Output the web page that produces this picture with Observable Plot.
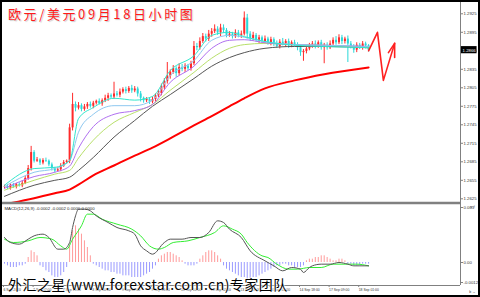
<!DOCTYPE html>
<html><head><meta charset="utf-8">
<script src="https://cdn.jsdelivr.net/npm/d3@7"></script>
<script src="https://cdn.jsdelivr.net/npm/@observablehq/plot@0.6"></script>
<style>
html,body{margin:0;padding:0;background:#fff;}
#wrap{position:relative;width:480px;height:297px;box-sizing:border-box;border:2px solid #000;overflow:hidden;background:#fff;}
#main{position:absolute;left:0;top:0;}
#macd{position:absolute;left:0;top:199px;}
#title{position:absolute;left:6px;top:2px;font-family:"Noto Sans CJK SC",sans-serif;font-size:13px;letter-spacing:2.6px;color:#ff1a1a;text-shadow:1px 1px 1px #c8c8c8;white-space:nowrap;}
#mark{position:absolute;left:6px;top:272px;font-family:"Noto Sans CJK SC",sans-serif;font-size:14px;letter-spacing:0.45px;color:#000;white-space:nowrap;text-shadow:0 0 2px #fff,0 0 2px #fff,0 0 2px #fff;}
</style></head>
<body><div id="wrap"><div id="main"></div><div id="macd"></div><div id="title"></div><div id="mark"></div></div>
<script>
// ---- text ----
const titleText = "欧元/美元09月18日小时图";
const watermarkText = "外汇之星(www.forexstar.com.cn)专家团队";
const macdName = "MACD(12,26,9)";
const macdLabelValues = [-0.0002, -0.0002, 0.0000, 0.0000];

// ---- candles: prices in pips above 1.2600 ----
const firstOpen = 44;
const closes = [45,42,47,44,48,46,50,58,74,100,
  86,88,83,87,86,80,74,70,72,78,
  84,86,140,178,172,176,170,174,178,175,
  180,183,179,184,188,192,190,195,193,198,
  202,199,204,200,203,195,188,184,186,182,
  186,192,196,205,215,224,230,236,228,238,
  235,240,236,244,272,270,280,288,284,292,
  296,300,294,302,298,290,292,288,294,290,
  292,318,292,285,290,282,286,280,284,278,
  283,276,272,279,276,280,273,278,275,270,
  262,264,268,274,276,272,278,270,274,270,
  276,282,278,286,280,284,276,272,266,274,
  270,276,273,266];
const wickUp = [2,3,2,3,2,3,4,3,5,10, 3,4,2,3,4,2,3,2,3,4, 3,2,6,18,4,5,3,4,3,4,
  3,2,4,3,5,4,3,19,4,5, 3,4,3,5,4,3,4,2,3,3, 4,3,5,6,5,22,4,5,3,6,
  5,4,3,4,8,5,6,5,4,6, 5,7,4,6,5,3,4,3,5,4, 5,10,6,4,5,3,4,3,5,3,
  4,3,5,4,6,3,4,3,4,3, 5,3,4,3,4,5,3,4,3,4, 5,4,6,5,4,3,5,4,3,4, 3,4,3,2];
const wickDown = [3,2,3,2,3,2,3,2,3,4, 3,2,4,3,2,3,4,3,2,3, 2,3,4,5,6,3,4,3,4,3,
  4,3,2,4,3,5,3,4,3,4, 3,4,3,4,3,5,6,4,3,4, 3,4,3,4,3,4,5,3,6,4,
  4,5,3,4,3,5,4,3,5,4, 5,3,4,6,5,4,3,4,3,4, 5,3,8,5,4,3,5,4,3,4,
  5,4,3,4,3,5,4,3,4,5, 6,14,4,3,5,4,3,4,26,4, 3,5,4,3,5,4,30,4,5,4, 3,4,5,3];

// ---- moving averages (pips above 1.2600), sampled at bar indices ----
const maBars   = [0,10,17,22,25,30,37,44,50,56,64,70,76,81,88,98,108,123];
const maCyan   = [47,74,76,87,155,173,188,185,191,233,257,290,295,288,280,274,272,270];
const maSky    = [45,68,74,87,133,162,176,176,185,225,249,282,290,287,280,275,274,272];
const maPurple = [42,61,68,78,107,142,162,168,178,214,240,269,282,283,278,275,274,272];
const maLime   = [39,55,65,71,91,120,149,165,178,201,230,253,269,275,277,275,274,270];
const maGray   = [29,47,55,60,71,92,125,152,175,194,220,240,254,262,269,272,272,270];
const maRed    = [16,26,34,40,48,63,79,95,108,123,144,159,175,188,204,217,227,238];

// ---- hand-drawn forecast arrow (bar index, pips) ----
const arrowBars = [123,126,128,131.8];
const arrowPips = [265,295,217,277];
const headBars = [129.7,131.8,131.8];
const headPips = [262,277,254];

// ---- MACD (units of 0.0001) ----
const macdBars = [0,2,5,8,10,13,15,18,20,22,23,24,25,27,29,31,35,38,42,44,46,48,50,54,56,60,63,66,69,72,74,76,80,83,88,91,94,97,100,101,103,104,107,110,113,116,118,120,123];
const macdVals = [15,12,11,14,16,17,15,8,8,12,21,28,32,32,31,28,24,21,19,17,10,7,5,12,14,14,15,15,18,25,24,20,15,7,1,-2,-5,-3,-4,-6,-3,-2,-1,-1,0,-1,-2,-2,-2];
const sigBars = [0,3,8,12,16,19,21,23,26,28,30,33,38,43,46,49,52,54,57,62,66,71,74,77,80,82,87,89,92,96,99,103,107,111,116,119,123];
const sigVals = [14,12,13,15,14,10,8,14,22,29,29,26,23,20,16,10,8,9,12,13,15,18,22,20,17,12,4,3,-1,-4,-4,-3,-3,-1,-1,-1,-2];
const histVals = [-1,-2,-3,-3,-3,-2,-2,-1,3,7,
  6,4,-2,-3,-5,-6,-8,-9,-9,-8,
  -6,-3,10,19,22,20,17,13,9,4,
  -1,-2,-3,-4,-5,-5,-6,-6,-7,-7,
  -8,-8,-8,-9,-9,-9,-9,-8,-7,-6,
  -4,-2,2,4,5,6,6,5,4,3,
  1,-1,-2,-2,-2,-1,2,4,6,7,
  7,6,4,2,-2,-4,-5,-6,-7,-8,
  -9,-9,-10,-10,-9,-9,-8,-7,-6,-5,
  -4,-3,-2,-2,-1,-1,-2,-2,-3,-3,
  -3,-2,1,2,2,3,3,4,4,3,
  2,1,1,2,2,1,-1,-1,-2,-2,
  -2,-1,-1,-1];

// ---- axes ----
const priceTicks = [1.2925,1.2895,1.2865,1.2835,1.2805,1.2775,1.2745,1.2715,1.2685,1.2655,1.2625];
const macdTicks = [0.0033, 0, -0.0012];
const macdTickLabels = ["0.003", "0.00", "-0.0012"];
const timeTicks = [0,10,20,30,40,50,60,70,80,90,100,110,120];
const timeLabels = ["6 Sep 2010","7 Sep 02:00","7 Sep 18:00","8 Sep 10:00","9 Sep 02:00","9 Sep 18:00","10 Sep 10:00","13 Sep 02:00","13 Sep 18:00","14 Sep 02:00","14 Sep 18:00","17 Sep 09:00","18 Sep 01:00"];

// ---- build ----
const P = p => 1.26 + p / 10000;
const M = v => v / 10000;
const UP = "#ff2a2a", DN = "#2ad8d8";
const opens = [firstOpen, ...closes.slice(0, -1)];
const candles = closes.map((c, i) => ({
  i, o: P(opens[i]), c: P(c),
  h: P(Math.max(opens[i], c) + wickUp[i]),
  l: P(Math.min(opens[i], c) - wickDown[i]),
  col: c >= opens[i] ? UP : DN
}));
const maSeries = (vals) => maBars.map((b, k) => ({b, v: P(vals[k])}));
const last = candles[candles.length - 1].c;

const xDom = [-0.676, 154.05];
const W = 476;
const style = {fontFamily: "Arial, 'Liberation Sans', sans-serif", fontSize: "4.3px", background: "transparent", color: "#222"};

const main = Plot.plot({
  width: W, height: 200,
  marginLeft: 0, marginRight: 18, marginTop: 0, marginBottom: 0,
  style,
  x: {domain: xDom, axis: null},
  y: {domain: [1.2619, 1.29433], axis: null},
  color: {type: "identity"},
  marks: [
    Plot.ruleX(candles, {x: "i", y1: "l", y2: "h", stroke: "col", strokeWidth: 1}),
    Plot.ruleX(candles, {x: "i", y1: "o", y2: "c", stroke: "col", strokeWidth: 2}),
    Plot.line(maSeries(maRed), {x: "b", y: "v", stroke: "#ff0000", strokeWidth: 2, curve: "monotone-x", clip: true}),
    Plot.line(maSeries(maGray), {x: "b", y: "v", stroke: "#555555", strokeWidth: 1, curve: "monotone-x", clip: true}),
    Plot.line(maSeries(maLime), {x: "b", y: "v", stroke: "#b8e06a", strokeWidth: 1, curve: "monotone-x", clip: true}),
    Plot.line(maSeries(maPurple), {x: "b", y: "v", stroke: "#b070f0", strokeWidth: 1, curve: "monotone-x", clip: true}),
    Plot.line(maSeries(maSky), {x: "b", y: "v", stroke: "#8ec8f0", strokeWidth: 1, curve: "monotone-x", clip: true}),
    Plot.line(maSeries(maCyan), {x: "b", y: "v", stroke: "#33e6cc", strokeWidth: 1, curve: "monotone-x", clip: true}),
    Plot.line(arrowBars.map((b, k) => ({b, v: P(arrowPips[k])})), {x: "b", y: "v", stroke: "#ff2020", strokeWidth: 1.6}),
    Plot.line(headBars.map((b, k) => ({b, v: P(headPips[k])})), {x: "b", y: "v", stroke: "#ff2020", strokeWidth: 1.6}),
    Plot.ruleX([xDom[1]], {stroke: "#808080", strokeWidth: 1}),
    Plot.axisY(priceTicks, {anchor: "right", tickSize: 2, tickPadding: 1, fontSize: 4.3, stroke: "#808080", fill: "#333", tickFormat: d3.format(".4f")}),
    Plot.rect([last], {x1: () => xDom[1] + 0.3, x2: () => xDom[1] + 5.6, y1: d => d - 0.00058, y2: d => d + 0.00058, fill: "#000"}),
    Plot.text([last], {x: () => xDom[1] + 0.7, y: d => d, text: d3.format(".4f"), fill: "#fff", textAnchor: "start", fontSize: 4.3})
  ]
});
document.getElementById("main").appendChild(main);

const macd = Plot.plot({
  width: W, height: 94,
  marginLeft: 0, marginRight: 18, marginTop: 3, marginBottom: 10,
  style,
  x: {domain: xDom, axis: null},
  y: {domain: [-0.00138, 0.00348], axis: null},
  color: {type: "identity"},
  marks: [
    Plot.ruleX(histVals, {x: (d, i) => i, y1: 0, y2: d => M(d), stroke: d => d >= 0 ? "#ff9a9a" : "#9a9aff", strokeWidth: 1}),
    Plot.line(sigBars.map((b, k) => ({b, v: M(sigVals[k])})), {x: "b", y: "v", stroke: "#33ee33", strokeWidth: 1, curve: "monotone-x"}),
    Plot.line(macdBars.map((b, k) => ({b, v: M(macdVals[k])})), {x: "b", y: "v", stroke: "#555555", strokeWidth: 1, curve: "monotone-x"}),
    Plot.ruleY([0.00348], {dy: -1.5, stroke: "#808080", strokeWidth: 2.5}),
    Plot.ruleY([-0.00138], {stroke: "#808080", strokeWidth: 1}),
    Plot.ruleX([xDom[1]], {stroke: "#808080", strokeWidth: 1, insetTop: -3}),
    Plot.axisY(macdTicks, {anchor: "right", tickSize: 2, tickPadding: 1, fontSize: 4.3, stroke: "#808080", fill: "#333", tickFormat: (d, i) => macdTickLabels[i]}),
    Plot.axisX(timeTicks, {anchor: "bottom", tickSize: 2, tickPadding: 1, fontSize: 3.4, stroke: "#808080", fill: "#333", textAnchor: "start", dx: -1, tickFormat: (d, i) => timeLabels[i]}),
    Plot.text([macdName + " " + macdLabelValues.map(d3.format(".4f")).join(" ")], {frameAnchor: "top-left", dx: 2, dy: 2, text: d => d.replace(/−/g, "-"), fontSize: 4.3, fill: "#222", textAnchor: "start"})
  ]
});
document.getElementById("macd").appendChild(macd);

document.getElementById("title").textContent = titleText;
document.getElementById("mark").textContent = watermarkText;
</script>
</body></html>
